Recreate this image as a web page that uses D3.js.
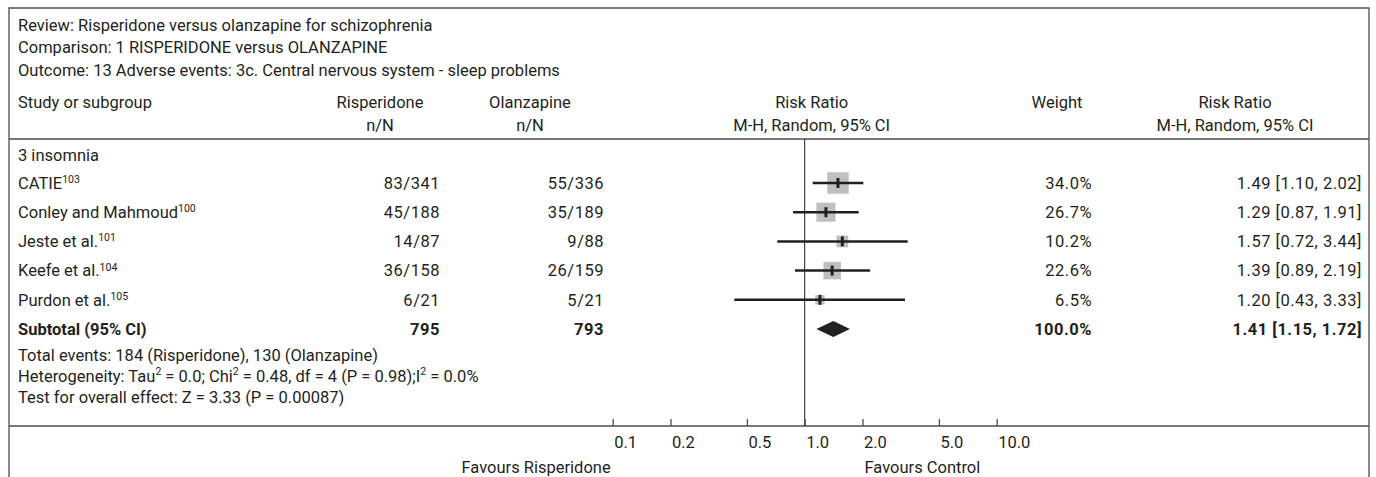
<!DOCTYPE html>
<html>
<head>
<meta charset="utf-8">
<script src="https://cdn.jsdelivr.net/npm/d3@7"></script>
<style>
body { margin: 0; background: #fff; }
svg text { font-family: Roboto, "Liberation Sans", Arial, sans-serif; font-size: 16.5px; fill: #231f20; }
</style>
</head>
<body>
<div id="chart"></div>
<script>
// -------------------- DATA --------------------

const titleLines = [
    "Review: Risperidone versus olanzapine for schizophrenia",
    "Comparison: 1 RISPERIDONE versus OLANZAPINE",
    "Outcome: 13 Adverse events: 3c. Central nervous system - sleep problems"
];
const headerTop = ["Study or subgroup", "Risperidone", "Olanzapine", "Risk Ratio", "Weight", "Risk Ratio"];
const headerBottom = ["", "n/N", "n/N", "M-H, Random, 95% CI", "", "M-H, Random, 95% CI"];
const subgroup = "3 insomnia";

const studies = ["CATIE", "Conley and Mahmoud", "Jeste et al.", "Keefe et al.", "Purdon et al."];
const refs = ["103", "100", "101", "104", "105"];
const rispEvents = [83, 45, 14, 36, 6];
const rispTotal = [341, 188, 87, 158, 21];
const olzEvents = [55, 35, 9, 26, 5];
const olzTotal = [336, 189, 88, 159, 21];
const weights = [34.0, 26.7, 10.2, 22.6, 6.5];
const rr = [1.49, 1.29, 1.57, 1.39, 1.20];
const rrLow = [1.10, 0.87, 0.72, 0.89, 0.43];
const rrHigh = [2.02, 1.91, 3.44, 2.19, 3.33];

const subtotalLabel = "Subtotal (95% CI)";
const subtotalN = [795, 793];
const subtotalWeight = 100.0;
const subtotalRR = [1.41, 1.15, 1.72];

const totalEvents = "Total events: 184 (Risperidone), 130 (Olanzapine)";
// text pieces, true = superscript
const heterogeneity = [
    ["Heterogeneity: Tau", false], ["2", true], [" = 0.0; Chi", false], ["2", true],
    [" = 0.48, df = 4 (P = 0.98);I", false], ["2", true], [" = 0.0%", false]
];
const overallTest = "Test for overall effect: Z = 3.33 (P = 0.00087)";

const axisTicks = [0.1, 0.2, 0.5, 1, 2, 5, 10];
const axisLabels = ["0.1", "0.2", "0.5", "1.0", "2.0", "5.0", "10.0"];
const favours = ["Favours Risperidone", "Favours Control"];

// -------------------- DRAWING --------------------

const width = 1376, height = 477;
const frameLeft = 9, frameRight = 1369, frameTop = 8;
const headLineY = 139, axisY = 426;
const ink = "#231f20", rule = "#4d4d4d";
const fontStack = "Roboto, \"Liberation Sans\", Arial, sans-serif";

const svg = d3.select("#chart").append("svg")
    .attr("width", width)
    .attr("height", height)
    .attr("viewBox", [0, 0, width, height]);

const x = d3.scaleLog().domain([0.1, 10]).range([612.7, 996.7]);
const rowY = d3.scalePoint().domain(d3.range(studies.length + 1)).range([183, 329]);
const boxSize = d3.scaleSqrt().domain([0, 34]).range([0, 21.5]);
const fmt1 = d3.format(".1f"), fmt2 = d3.format(".2f");

// frame
svg.append("path")
    .attr("d", `M${frameLeft},${height}V${frameTop}H${frameRight}V${height}`)
    .attr("fill", "none").attr("stroke", rule).attr("stroke-width", 1.3);
svg.append("line")
    .attr("x1", frameLeft).attr("x2", frameRight).attr("y1", headLineY).attr("y2", headLineY)
    .attr("stroke", rule).attr("stroke-width", 1.5);
svg.append("line")
    .attr("x1", frameLeft).attr("x2", frameRight).attr("y1", axisY).attr("y2", axisY)
    .attr("stroke", rule).attr("stroke-width", 1.5);
svg.append("line")
    .attr("x1", x(1)).attr("x2", x(1)).attr("y1", headLineY).attr("y2", axisY)
    .attr("stroke", ink).attr("stroke-width", 1);

// title lines
svg.append("g").selectAll("text")
    .data(titleLines)
    .join("text")
    .attr("x", 18)
    .attr("y", (d, i) => 25 + i * 22.5)
    .attr("dy", "0.35em")
    .text(d => d);

// column headers
const headX = [18, 380, 530, x(1) + 7, 1057, 1235];
const headAnchor = ["start", "middle", "middle", "middle", "middle", "middle"];
[headerTop, headerBottom].forEach((row, r) => {
    svg.append("g").selectAll("text")
        .data(row)
        .join("text")
        .attr("x", (d, i) => headX[i])
        .attr("y", r === 0 ? 102 : 125)
        .attr("dy", "0.35em")
        .attr("text-anchor", (d, i) => headAnchor[i])
        .text(d => d);
});

svg.append("text")
    .attr("x", 18).attr("y", 155).attr("dy", "0.35em")
    .text(subgroup);

// study rows
const rows = studies.map((s, i) => ({
    name: s, ref: refs[i], i,
    a: `${rispEvents[i]}/${rispTotal[i]}`,
    b: `${olzEvents[i]}/${olzTotal[i]}`,
    w: `${fmt1(weights[i])}%`,
    ci: `${fmt2(rr[i])} [${fmt2(rrLow[i])}, ${fmt2(rrHigh[i])}]`
}));

const names = svg.append("g").selectAll("text")
    .data(rows)
    .join("text")
    .attr("x", 18)
    .attr("y", d => rowY(d.i))
    .attr("dy", "0.35em");
names.append("tspan").text(d => d.name);
names.append("tspan").attr("font-size", 10.5).attr("dy", "-0.55em").text(d => d.ref);

const numCols = [["a", 440], ["b", 604], ["w", 1092], ["ci", 1362]];
numCols.forEach(([key, cx]) => {
    svg.append("g").selectAll("text")
        .data(rows)
        .join("text")
        .attr("x", cx)
        .attr("y", d => rowY(d.i))
        .attr("dy", "0.35em")
        .attr("text-anchor", "end")
        .attr("letter-spacing", 0.5)
        .text(d => d[key]);
});

// forest marks
const marks = svg.append("g");
marks.selectAll("rect")
    .data(rows)
    .join("rect")
    .attr("x", d => x(rr[d.i]) - boxSize(weights[d.i]) / 2)
    .attr("y", d => rowY(d.i) - boxSize(weights[d.i]) / 2)
    .attr("width", d => boxSize(weights[d.i]))
    .attr("height", d => boxSize(weights[d.i]))
    .attr("fill", "#bfbfbf");
marks.selectAll("line.ci")
    .data(rows)
    .join("line")
    .attr("class", "ci")
    .attr("x1", d => x(rrLow[d.i]))
    .attr("x2", d => x(rrHigh[d.i]))
    .attr("y1", d => rowY(d.i))
    .attr("y2", d => rowY(d.i))
    .attr("stroke", ink).attr("stroke-width", 2.5);
marks.selectAll("line.pt")
    .data(rows)
    .join("line")
    .attr("class", "pt")
    .attr("x1", d => x(rr[d.i]))
    .attr("x2", d => x(rr[d.i]))
    .attr("y1", d => rowY(d.i) - 5)
    .attr("y2", d => rowY(d.i) + 5)
    .attr("stroke", ink).attr("stroke-width", 3);

// subtotal
const sy = rowY(studies.length);
const sub = svg.append("g");
sub.append("text").attr("x", 18).attr("y", sy).attr("dy", "0.35em")
    .style("font-weight", "bold").text(subtotalLabel);
const subVals = [[subtotalN[0], 440], [subtotalN[1], 604], [`${fmt1(subtotalWeight)}%`, 1092],
    [`${fmt2(subtotalRR[0])} [${fmt2(subtotalRR[1])}, ${fmt2(subtotalRR[2])}]`, 1362]];
sub.selectAll("text.v")
    .data(subVals)
    .join("text")
    .attr("class", "v")
    .attr("x", d => d[1])
    .attr("y", sy)
    .attr("dy", "0.35em")
    .attr("text-anchor", "end")
    .attr("letter-spacing", 0.5)
    .style("font-weight", "bold")
    .text(d => d[0]);
svg.append("path")
    .attr("d", `M${x(subtotalRR[1])},${sy}L${x(subtotalRR[0])},${sy - 8}L${x(subtotalRR[2])},${sy}L${x(subtotalRR[0])},${sy + 8}Z`)
    .attr("fill", ink);

// footer text
svg.append("text").attr("x", 18).attr("y", 355).attr("dy", "0.35em").text(totalEvents);
const het = svg.append("text").attr("x", 18).attr("y", 376).attr("dy", "0.35em");
heterogeneity.forEach(([t, sup], k) => {
    het.append("tspan")
        .attr("font-size", sup ? 10.5 : null)
        .attr("dy", sup ? "-0.6em" : (k > 0 ? "0.38em" : null))
        .text(t);
});
svg.append("text").attr("x", 18).attr("y", 397).attr("dy", "0.35em").text(overallTest);

// axis
const axis = svg.append("g")
    .attr("transform", `translate(0,${axisY})`)
    .call(d3.axisBottom(x).tickValues(axisTicks).tickSize(-7).tickPadding(10)
        .tickFormat((d, i) => axisLabels[i]));
axis.select(".domain").remove();
axis.selectAll(".tick line").attr("stroke", rule).attr("stroke-width", 1.3);
axis.selectAll(".tick text")
    .attr("text-anchor", "start")
    .attr("x", 1)
    .attr("fill", ink)
    .style("font-family", fontStack)
    .style("font-size", "16.5px");
axis.attr("font-size", null).attr("font-family", null);

svg.append("text").attr("x", x(0.1) - 2).attr("y", 467).attr("dy", "0.35em")
    .attr("text-anchor", "end").text(favours[0]);
svg.append("text").attr("x", x(2) + 2).attr("y", 467).attr("dy", "0.35em")
    .text(favours[1]);
</script>
</body>
</html>
